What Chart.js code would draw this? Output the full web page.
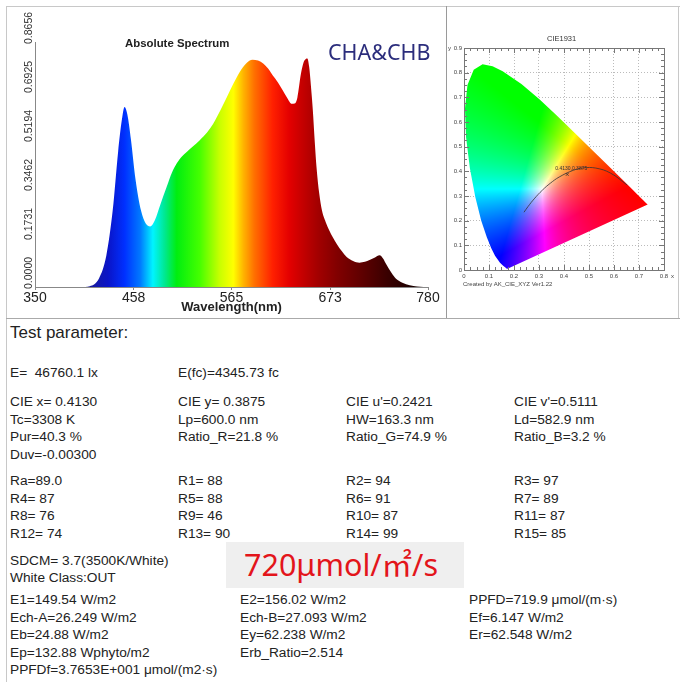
<!DOCTYPE html>
<html>
<head>
<meta charset="utf-8">
<script src="https://cdn.jsdelivr.net/npm/chart.js@4.4.0/dist/chart.umd.min.js"></script>
<style>
  html, body { margin: 0; padding: 0; background: #fff; }
  #page { position: relative; width: 680px; height: 682px; overflow: hidden; font-family: "Liberation Sans", Arial, sans-serif; color: #222; }
  .ln { position: absolute; background: #c8c8c8; }
  .t { position: absolute; white-space: pre; font-size: 13.7px; line-height: 16px; }
  canvas { position: absolute; }
</style>
</head>
<body>
<div id="page">
  <div class="ln" style="left:6px;top:6px;width:674px;height:1px;"></div>
  <div class="ln" style="left:6px;top:6px;width:1px;height:676px;"></div>
  <div class="ln" style="left:446px;top:6px;width:1px;height:312px;background:#9a9a9a;"></div>
  <div class="ln" style="left:678px;top:6px;width:1px;height:312px;"></div>
  <div class="ln" style="left:6px;top:318px;width:674px;height:1px;background:#aaa;"></div>

  <canvas id="spec" width="439" height="311" style="left:7px;top:7px;"></canvas>
  <canvas id="cie" width="231" height="311" style="left:447px;top:7px;"></canvas>

  <div class="t" style="left:125px;top:35px;font-weight:bold;font-size:11.4px;">Absolute Spectrum</div>
  <div class="t" style="left:328px;top:38px;font-family:'Noto Sans';font-size:21.5px;line-height:28px;color:#2b2d7c;">CHA&amp;CHB</div>
  <div class="t" style="left:547px;top:34px;font-size:7.5px;line-height:9px;color:#333;">CIE1931</div>
  <div class="t" style="left:463px;top:280px;font-size:6px;line-height:8px;color:#444;">Created by AK_CIE_XYZ Ver1.22</div>

  <div id="params"></div>
  <div style="position:absolute;left:226px;top:542px;width:238px;height:46px;background:#efefef;"></div>
  <div class="t" style="left:244px;top:543px;font-family:'Noto Sans','Noto Sans CJK SC';font-size:30.5px;line-height:42px;color:#e3151b;">720μmol/㎡/s</div>
</div>

<script>
// spectrum (wavelength nm -> absolute intensity)
const waveNm = [400, 410, 420, 428, 435, 441, 445, 448, 451, 455, 460, 466, 471, 476, 481, 487, 494, 500, 505, 511,
  516, 523, 530, 538, 545, 553, 560, 567, 574, 581, 588, 594, 600, 605, 610, 616, 621, 626, 631, 634,
  637, 641, 644, 646, 648, 650, 652, 654, 656, 658, 661, 664, 668, 672, 676, 680, 686, 691, 698, 705,
  711, 716, 722, 727, 731, 734, 740, 745, 752, 760, 768, 775];
const intensity = [0, 0.003, 0.03, 0.11, 0.27, 0.48, 0.59, 0.636, 0.61, 0.52, 0.38, 0.27, 0.225, 0.214, 0.235, 0.29, 0.353, 0.405, 0.436, 0.462,
  0.477, 0.497, 0.518, 0.545, 0.577, 0.625, 0.671, 0.718, 0.76, 0.79, 0.803, 0.8, 0.789, 0.772, 0.748, 0.722, 0.695, 0.668, 0.647, 0.648,
  0.668, 0.754, 0.795, 0.805, 0.807, 0.777, 0.707, 0.624, 0.518, 0.424, 0.33, 0.27, 0.23, 0.2, 0.175, 0.153, 0.125, 0.106, 0.092, 0.086,
  0.089, 0.095, 0.104, 0.112, 0.1, 0.082, 0.05, 0.029, 0.015, 0.006, 0.002, 0];
const specXTicks = [350, 458, 565, 673, 780];
const specYTicks = [0, 0.1731, 0.3462, 0.5194, 0.6925, 0.8656];

// colour stops of the fill
const stopNm = [405, 430, 448, 465, 479, 492, 505, 530, 552, 567, 578, 590, 610, 628, 645, 660, 680, 705, 735, 765];
const stopColor = ['#1c1c90', '#0a14c8', '#0030ff', '#0078ff', '#00f4ff', '#00e890', '#00ee10', '#44ff00', '#c8ff00', '#ffff00',
  '#ffb400', '#ff7000', '#ff2000', '#e40000', '#c00000', '#a20000', '#820000', '#620000', '#3a0000', '#1a0000'];

// CIE 1931 spectral locus
const locusX = [0.1741, 0.1714, 0.1644, 0.1566, 0.1440, 0.1241, 0.1096, 0.0913, 0.0687, 0.0454, 0.0235, 0.0082, 0.0039, 0.0139,
  0.0389, 0.0743, 0.1142, 0.1547, 0.2296, 0.3016, 0.3731, 0.4441, 0.5125, 0.5752, 0.6270, 0.6658, 0.6915, 0.7190, 0.7300, 0.7347];
const locusY = [0.0050, 0.0051, 0.0109, 0.0177, 0.0297, 0.0578, 0.0868, 0.1327, 0.2007, 0.2950, 0.4127, 0.5384, 0.6548, 0.7502,
  0.8120, 0.8338, 0.8262, 0.8059, 0.7543, 0.6923, 0.6245, 0.5547, 0.4866, 0.4242, 0.3725, 0.3340, 0.3083, 0.2809, 0.2700, 0.2653];
// planckian locus, infinity .. 1000K
const planckX = [0.2399, 0.2565, 0.2807, 0.3135, 0.3451, 0.3805, 0.4369, 0.4770, 0.5267, 0.5857, 0.6528];
const planckY = [0.2342, 0.2577, 0.2884, 0.3237, 0.3516, 0.3768, 0.4041, 0.4137, 0.4133, 0.3931, 0.3444];
const sampleX = [0.4130];
const sampleY = [0.3875];
const cieXTicks = [0, 0.1, 0.2, 0.3, 0.4, 0.5, 0.6, 0.7, 0.8];
const cieYTicks = [0, 0.1, 0.2, 0.3, 0.4, 0.5, 0.6, 0.7, 0.8, 0.9];

// test parameter text
const paramRows = [
  [333, [[10, 'Test parameter:']]],
  [373, [[10, 'E=  46760.1 lx'], [178, 'E(fc)=4345.73 fc']]],
  [402, [[10, 'CIE x= 0.4130'], [178, 'CIE y= 0.3875'], [346, "CIE u'=0.2421"], [514, "CIE v'=0.5111"]]],
  [419.5, [[10, 'Tc=3308 K'], [178, 'Lp=600.0 nm'], [346, 'HW=163.3 nm'], [514, 'Ld=582.9 nm']]],
  [437, [[10, 'Pur=40.3 %'], [178, 'Ratio_R=21.8 %'], [346, 'Ratio_G=74.9 %'], [514, 'Ratio_B=3.2 %']]],
  [454.5, [[10, 'Duv=-0.00300']]],
  [481, [[10, 'Ra=89.0'], [178, 'R1= 88'], [346, 'R2= 94'], [514, 'R3= 97']]],
  [498.5, [[10, 'R4= 87'], [178, 'R5= 88'], [346, 'R6= 91'], [514, 'R7= 89']]],
  [516, [[10, 'R8= 76'], [178, 'R9= 46'], [346, 'R10= 87'], [514, 'R11= 87']]],
  [533.5, [[10, 'R12= 74'], [178, 'R13= 90'], [346, 'R14= 99'], [514, 'R15= 85']]],
  [561, [[10, 'SDCM= 3.7(3500K/White)']]],
  [578, [[10, 'White Class:OUT']]],
  [600, [[10, 'E1=149.54 W/m2'], [240, 'E2=156.02 W/m2'], [469, 'PPFD=719.9 μmol/(m·s)']]],
  [617.5, [[10, 'Ech-A=26.249 W/m2'], [240, 'Ech-B=27.093 W/m2'], [469, 'Ef=6.147 W/m2']]],
  [635, [[10, 'Eb=24.88 W/m2'], [240, 'Ey=62.238 W/m2'], [469, 'Er=62.548 W/m2']]],
  [652.5, [[10, 'Ep=132.88 Wphyto/m2'], [240, 'Erb_Ratio=2.514']]],
  [670, [[10, 'PPFDf=3.7653E+001 μmol/(m2·s)']]]
];

const params = document.getElementById('params');
paramRows.forEach(([y, cells], r) => {
  cells.forEach(([x, txt]) => {
    const d = document.createElement('div');
    d.className = 't';
    d.textContent = txt;
    d.style.left = x + 'px';
    if (r === 0) { d.style.fontSize = '17px'; d.style.lineHeight = '20px'; d.style.top = (y - 10) + 'px'; }
    else d.style.top = (y - 8) + 'px';
    params.appendChild(d);
  });
});

// rotated y labels on the spectrum
const specYLabels = {
  id: 'specYLabels',
  afterDraw(chart) {
    const { ctx } = chart;
    const ys = chart.scales.y;
    ctx.save();
    ctx.font = '10.5px "Liberation Sans", Arial';
    ctx.fillStyle = '#333';
    ctx.textAlign = 'left';
    ctx.textBaseline = 'middle';
    specYTicks.forEach(v => {
      ctx.save();
      ctx.translate(22, ys.getPixelForValue(v) + 2);
      ctx.rotate(-Math.PI / 2);
      ctx.fillText(v.toFixed(4), 0, 0);
      ctx.restore();
    });
    ctx.restore();
  }
};

new Chart(document.getElementById('spec'), {
  type: 'line',
  data: {
    datasets: [{
      data: waveNm.map((w, i) => ({ x: w, y: intensity[i] })),
      borderWidth: 0,
      pointRadius: 0,
      fill: 'origin',
      cubicInterpolationMode: 'monotone',
      backgroundColor: c => {
        const { chart } = c;
        const a = chart.chartArea;
        if (!a) return '#f00';
        const xs = chart.scales.x;
        const g = chart.ctx.createLinearGradient(a.left, 0, a.right, 0);
        stopNm.forEach((nm, i) => {
          const p = (xs.getPixelForValue(nm) - a.left) / (a.right - a.left);
          g.addColorStop(Math.min(1, Math.max(0, p)), stopColor[i]);
        });
        return g;
      }
    }]
  },
  options: {
    responsive: false,
    animation: false,
    devicePixelRatio: 1,
    layout: { padding: { left: 0, top: 35, right: 18, bottom: 0 } },
    plugins: { legend: { display: false }, tooltip: { enabled: false } },
    scales: {
      x: {
        type: 'linear', min: 350, max: 780,
        afterBuildTicks: s => { s.ticks = specXTicks.map(v => ({ value: v })); },
        afterFit: s => { s.height = 31; },
        ticks: { font: { size: 14, family: '"Liberation Sans", Arial' }, color: '#222', padding: 0, maxRotation: 0 },
        grid: { drawOnChartArea: false, tickLength: 3, color: '#888' },
        border: { color: '#888' },
        title: { display: true, text: 'Wavelength(nm)', color: '#222', font: { size: 13, weight: 'bold', family: '"Liberation Sans", Arial' }, padding: { top: 0, bottom: 3 } }
      },
      y: {
        min: 0, max: 0.8656,
        afterBuildTicks: s => { s.ticks = specYTicks.map(v => ({ value: v })); },
        afterFit: s => { s.width = 28; },
        ticks: { display: false },
        grid: { display: false },
        border: { color: '#888' }
      }
    }
  },
  plugins: [specYLabels]
});

// chromaticity -> display colour
function xyColor(x, y) {
  if (y < 0.001) y = 0.001;
  const X = x / y, Y = 1, Z = (1 - x - y) / y;
  let r = 3.2406 * X - 1.5372 * Y - 0.4986 * Z;
  let g = -0.9689 * X + 1.8758 * Y + 0.0415 * Z;
  let b = 0.0557 * X - 0.2040 * Y + 1.0570 * Z;
  r = Math.max(r, 0); g = Math.max(g, 0); b = Math.max(b, 0);
  const m = Math.max(r, g, b) || 1;
  return [r / m, g / m, b / m].map(v => Math.round(255 * Math.pow(v, 0.95)));
}

const cieFill = {
  id: 'cieFill',
  beforeDatasetsDraw(chart) {
    const { ctx, chartArea: a, scales: { x, y } } = chart;
    const w = Math.round(a.right - a.left), h = Math.round(a.bottom - a.top);
    const off = document.createElement('canvas');
    off.width = w; off.height = h;
    const octx = off.getContext('2d');
    const img = octx.createImageData(w, h);
    for (let j = 0; j < h; j++) {
      const cy = y.getValueForPixel(a.top + j + 0.5);
      for (let i = 0; i < w; i++) {
        const cx = x.getValueForPixel(a.left + i + 0.5);
        const c = xyColor(cx, cy);
        const k = (j * w + i) * 4;
        img.data[k] = c[0]; img.data[k + 1] = c[1]; img.data[k + 2] = c[2]; img.data[k + 3] = 255;
      }
    }
    octx.putImageData(img, 0, 0);
    const pts = chart.getDatasetMeta(0).data;
    ctx.save();
    ctx.beginPath();
    pts.forEach((p, k) => k ? ctx.lineTo(p.x, p.y) : ctx.moveTo(p.x, p.y));
    ctx.closePath();
    ctx.clip();
    ctx.drawImage(off, a.left, a.top);
    ctx.restore();
  },
  afterDraw(chart) {
    const { ctx, chartArea: a, scales: { x, y } } = chart;
    ctx.save();
    ctx.strokeStyle = '#777';
    ctx.lineWidth = 1;
    ctx.strokeRect(Math.round(a.left) + 0.5, Math.round(a.top) + 0.5, Math.round(a.right - a.left), Math.round(a.bottom - a.top));
    ctx.beginPath();
    for (let v = 0; v <= 0.8001; v += 0.025) {
      const px = Math.round(x.getPixelForValue(v)) + 0.5;
      const len = Math.abs(v * 10 - Math.round(v * 10)) < 0.01 ? 5 : 3;
      ctx.moveTo(px, a.bottom); ctx.lineTo(px, a.bottom - len);
      ctx.moveTo(px, a.top); ctx.lineTo(px, a.top + len);
    }
    for (let v = 0; v <= 0.9001; v += 0.025) {
      const py = Math.round(y.getPixelForValue(v)) + 0.5;
      const len = Math.abs(v * 10 - Math.round(v * 10)) < 0.01 ? 5 : 3;
      ctx.moveTo(a.left, py); ctx.lineTo(a.left + len, py);
      ctx.moveTo(a.right, py); ctx.lineTo(a.right - len, py);
    }
    ctx.stroke();
    ctx.fillStyle = '#444';
    ctx.font = '6px "Liberation Sans", Arial';
    ctx.textBaseline = 'middle';
    ctx.textAlign = 'left';
    ctx.fillText('x', x.getPixelForValue(0.8) + 7, a.bottom + 6);
    ctx.fillText('y', a.left - 16, y.getPixelForValue(0.9));
    const pm = chart.getDatasetMeta(2).data[0];
    ctx.font = '5px "Liberation Sans", Arial';
    ctx.fillStyle = '#333';
    ctx.fillText(sampleX[0].toFixed(4) + ',' + sampleY[0].toFixed(4), pm.x - 12, pm.y - 6);
    ctx.restore();
  }
};

new Chart(document.getElementById('cie'), {
  type: 'scatter',
  data: {
    datasets: [
      {
        data: locusX.map((v, i) => ({ x: v, y: locusY[i] })).concat([{ x: locusX[0], y: locusY[0] }]),
        showLine: true, borderWidth: 0, borderColor: 'rgba(0,0,0,0)', pointRadius: 0, fill: false
      },
      {
        data: planckX.map((v, i) => ({ x: v, y: planckY[i] })),
        showLine: true, borderWidth: 0.8, borderColor: '#333', pointRadius: 0, tension: 0.4, fill: false
      },
      {
        data: sampleX.map((v, i) => ({ x: v, y: sampleY[i] })),
        pointStyle: 'crossRot', pointRadius: 2, borderColor: '#333', borderWidth: 0.8
      }
    ]
  },
  options: {
    responsive: false,
    animation: false,
    devicePixelRatio: 1,
    layout: { padding: { left: 0, top: 41, right: 14, bottom: 0 } },
    plugins: { legend: { display: false }, tooltip: { enabled: false } },
    scales: {
      x: {
        type: 'linear', min: 0, max: 0.8,
        afterBuildTicks: s => { s.ticks = cieXTicks.map(v => ({ value: v })); },
        afterFit: s => { s.height = 48; },
        ticks: { font: { size: 6 }, color: '#444', padding: 3, maxRotation: 0, callback: v => v === 0 ? '0' : v.toFixed(1) },
        grid: { color: '#aaa', drawTicks: false, lineWidth: 0.8 },
        border: { display: false, dash: [1, 2] }
      },
      y: {
        min: 0, max: 0.9,
        afterBuildTicks: s => { s.ticks = cieYTicks.map(v => ({ value: v })); },
        afterFit: s => { s.width = 17; },
        ticks: { font: { size: 6 }, color: '#444', padding: 2, callback: v => v === 0 ? '0' : v.toFixed(1) },
        grid: { color: '#aaa', drawTicks: false, lineWidth: 0.8 },
        border: { display: false, dash: [1, 2] }
      }
    }
  },
  plugins: [cieFill]
});
</script>
</body>
</html>
